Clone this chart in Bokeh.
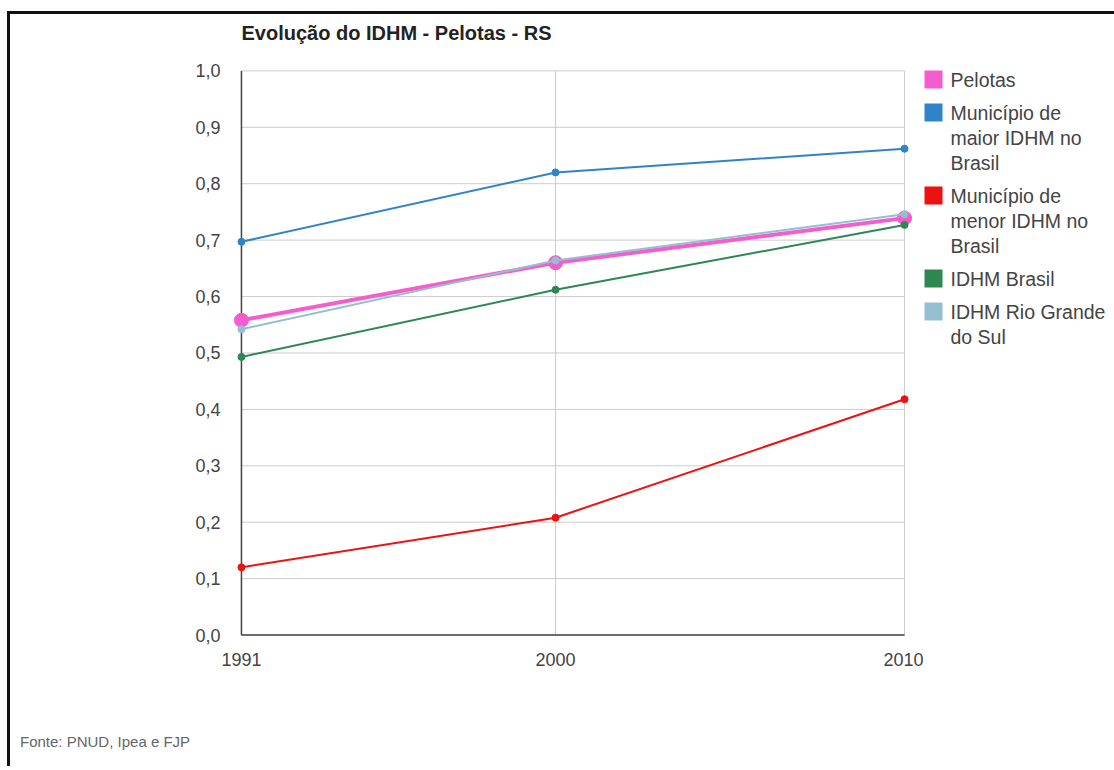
from bokeh.plotting import figure
from bokeh.models import Range1d, FixedTicker, Div
from bokeh.layouts import row, column
from bokeh.core.properties import value
from bokeh.embed import file_html
from bokeh.resources import INLINE

years = [1991, 2000, 2010]
legend_labels = [["Pelotas"], ["Município de", "maior IDHM no", "Brasil"],
                 ["Município de", "menor IDHM no", "Brasil"], ["IDHM Brasil"],
                 ["IDHM Rio Grande", "do Sul"]]
pelotas = [0.558, 0.660, 0.739]
maior = [0.697, 0.820, 0.862]
menor = [0.120, 0.208, 0.418]
brasil = [0.493, 0.612, 0.727]
rs = [0.542, 0.664, 0.746]
colors = ["#f55ccd", "#2f84c9", "#ee1111", "#2e8753", "#95bfd0"]
y_ticks = [0.0, 0.1, 0.2, 0.3, 0.4, 0.5, 0.6, 0.7, 0.8, 0.9, 1.0]
y_tick_labels = ["0,0", "0,1", "0,2", "0,3", "0,4", "0,5", "0,6", "0,7", "0,8", "0,9", "1,0"]
title_text = "Evolução do IDHM - Pelotas - RS"
source_text = "Fonte: PNUD, Ipea e FJP"

FONT = "Liberation Sans"
PW, PH = 913, 669
MB_TOP, MB_BOTTOM = 31, 40
p = figure(width=PW, height=PH, output_backend="svg", toolbar_location=None,
           x_range=Range1d(years[0] - 0.4, years[-1] + 0.4),
           y_range=Range1d(y_ticks[0] - 0.015, y_ticks[-1] + 0.045),
           min_border_left=217, min_border_right=5, min_border_top=MB_TOP, min_border_bottom=MB_BOTTOM,
           outline_line_color=None, background_fill_color="white", border_fill_color="white")

p.title.text = title_text
p.title.text_font = FONT
p.title.text_font_size = "20px"
p.title.text_color = "#222222"
p.title.align = "left"
p.title.offset = 14
p.title.standoff = 4

p.xgrid.visible = False
p.ygrid.visible = False

# grid lines limited to the data extents
p.segment(x0=[years[0]] * len(y_ticks), x1=[years[-1]] * len(y_ticks), y0=y_ticks, y1=y_ticks,
          line_color="#cccccc", line_width=1)
p.segment(x0=years, x1=years, y0=[y_ticks[0]] * len(years), y1=[y_ticks[-1]] * len(years),
          line_color="#cccccc", line_width=1)
# axis lines at the data origin
p.segment(x0=[years[0], years[0]], x1=[years[0], years[-1]],
          y0=[y_ticks[0], y_ticks[0]], y1=[y_ticks[-1], y_ticks[0]],
          line_color="#444444", line_width=1.5)

xa = p.xaxis[0]
xa.ticker = FixedTicker(ticks=years)
ya = p.yaxis[0]
ya.ticker = FixedTicker(ticks=y_ticks)
ya.major_label_overrides = {t: l for t, l in zip(y_ticks, y_tick_labels)}
for ax in (xa, ya):
    ax.axis_line_color = None
    ax.major_tick_line_color = None
    ax.minor_tick_line_color = None
    ax.major_tick_out = 0
    ax.major_tick_in = 0
    ax.major_label_text_font = FONT
    ax.major_label_text_font_size = "18px"
    ax.major_label_text_color = "#444444"
xa.major_label_standoff = 9
ya.major_label_standoff = 7

data = [pelotas, maior, menor, brasil, rs]
for i in range(len(data)):
    lw = 4 if i == 0 else 2
    sz = 14 if i == 0 else 7
    p.line(years, data[i], line_color=colors[i], line_width=lw)
    p.scatter(years, data[i], size=sz, fill_color=colors[i], line_color=colors[i])

# legend panel (pixel coordinates, y downwards, frame aligned with the chart frame)
QW = 187
QFH = PH - MB_TOP - MB_BOTTOM
q = figure(width=QW, height=PH, output_backend="svg", toolbar_location=None,
           x_range=Range1d(0, QW), y_range=Range1d(QFH, 0),
           x_axis_location=None, y_axis_location=None,
           min_border_left=0, min_border_right=0, min_border_top=MB_TOP, min_border_bottom=MB_BOTTOM,
           outline_line_color=None, background_fill_color="white", border_fill_color="white")
q.xgrid.visible = False
q.ygrid.visible = False
line_h, gap, first_y, sq = 25, 8, 34, 18
sq_x, sq_y, tx, ty, tt = [], [], [], [], []
yy = first_y
for lines in legend_labels:
    sq_x.append(10)
    sq_y.append(yy)
    for k, t in enumerate(lines):
        tx.append(27)
        ty.append(yy + k * line_h)
        tt.append(t)
    yy += len(lines) * line_h + gap
q.rect(x=sq_x, y=sq_y, width=sq, height=sq, fill_color=colors, line_color=None)
q.text(x=tx, y=ty, text=tt, text_font=value(FONT), text_font_size="19.5px",
       text_color="#444444", text_baseline="middle", text_align="left")

fonte = Div(text=f'<div style="padding:43px 0 0 5px;font-family:\'Liberation Sans\';'
                 f'font-size:15px;color:#666666;white-space:nowrap">{source_text}</div>',
            width=PW + QW, height=73)

layout = column(row(p, q), fonte,
                styles={"border-top": "3px solid #111", "border-left": "3px solid #111",
                        "margin-top": "11px", "margin-left": "7px"})

open("out.html", "w").write(file_html(layout, INLINE))
